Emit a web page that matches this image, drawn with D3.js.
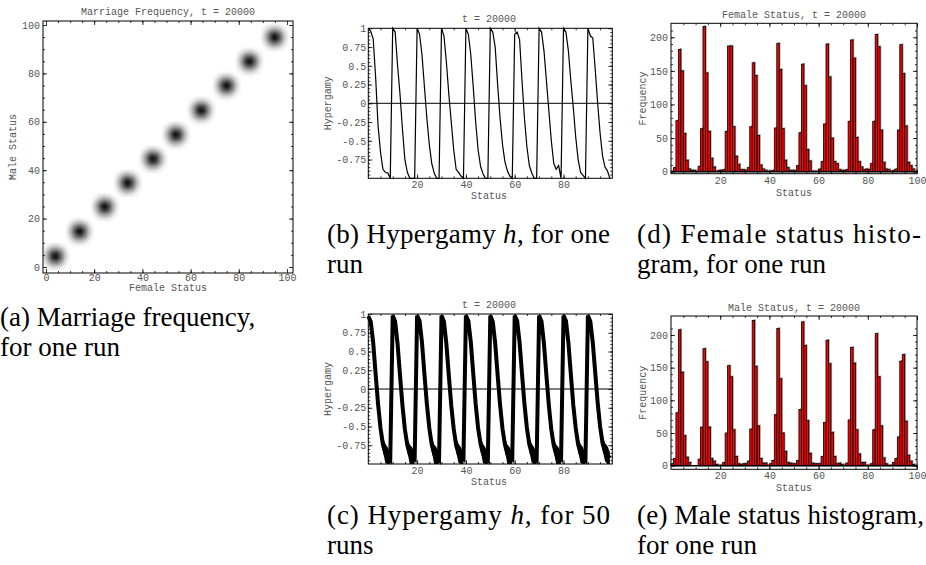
<!DOCTYPE html>
<html>
<head>
<meta charset="utf-8">
<script src="https://cdn.jsdelivr.net/npm/d3@7"></script>
<style>
  body { margin: 0; background: #fff; }
  svg { display: block; }
</style>
</head>
<body>
<svg id="chart" width="926" height="565"></svg>
<script>
// ---------- data (index in each array = status) ----------

// hypergamy h, one run
const hypOneRun = [
  1.00, 0.96, 0.86, 0.35, -0.30, -0.65, -0.88, -0.92, -0.93, -1.00,
  1.00, 0.95, 0.50, 0.12, -0.35, -0.75, -0.92, -1.00, -1.00, -1.00,
  1.00, 0.92, 0.65, 0.22, -0.20, -0.55, -0.80, -0.93, -1.00, -1.00,
  1.00, 0.90, 0.55, 0.12, -0.25, -0.62, -0.88, -0.92, -0.97, -1.00,
  1.00, 0.92, 0.65, 0.22, -0.25, -0.62, -0.84, -0.94, -1.00, -1.00,
  1.00, 0.95, 0.75, 0.25, -0.20, -0.55, -0.78, -0.90, -0.97, -1.00,
  0.92, 0.95, 0.85, 0.30, -0.20, -0.58, -0.83, -0.93, -1.00, -1.00,
  1.00, 0.95, 0.70, 0.30, -0.10, -0.50, -0.80, -0.88, -0.83, -1.00,
  1.00, 0.95, 0.70, 0.30, -0.05, -0.45, -0.75, -0.92, -0.96, -1.00,
  1.00, 0.90, 0.87, 0.45, 0.00, -0.40, -0.70, -0.85, -0.90, -1.00
];

// hypergamy h, 50 runs: centre of the band and its half width
const hyp50Mean = [
  0.97, 0.90, 0.62, 0.20, -0.20, -0.52, -0.74, -0.86, -0.90, -0.94,
  0.98, 0.90, 0.60, 0.18, -0.22, -0.54, -0.75, -0.87, -0.90, -0.93,
  0.98, 0.91, 0.62, 0.20, -0.20, -0.52, -0.74, -0.87, -0.90, -0.94,
  0.98, 0.90, 0.60, 0.18, -0.22, -0.53, -0.75, -0.86, -0.90, -0.93,
  0.98, 0.91, 0.63, 0.21, -0.20, -0.52, -0.73, -0.86, -0.90, -0.94,
  0.98, 0.90, 0.61, 0.19, -0.21, -0.53, -0.74, -0.87, -0.90, -0.93,
  0.98, 0.91, 0.62, 0.20, -0.20, -0.52, -0.74, -0.86, -0.90, -0.94,
  0.98, 0.90, 0.60, 0.18, -0.22, -0.54, -0.75, -0.87, -0.90, -0.93,
  0.98, 0.91, 0.62, 0.20, -0.21, -0.52, -0.74, -0.86, -0.90, -0.94,
  0.98, 0.90, 0.62, 0.22, -0.18, -0.50, -0.72, -0.84, -0.88, -0.92
];
const hyp50Spread = [
  0.03, 0.05, 0.05, 0.05, 0.05, 0.06, 0.09, 0.13, 0.12, 0.07,
  0.02, 0.05, 0.05, 0.05, 0.05, 0.06, 0.09, 0.13, 0.12, 0.07,
  0.02, 0.05, 0.05, 0.05, 0.05, 0.06, 0.09, 0.13, 0.12, 0.07,
  0.02, 0.05, 0.05, 0.05, 0.05, 0.06, 0.09, 0.13, 0.12, 0.07,
  0.02, 0.05, 0.05, 0.05, 0.05, 0.06, 0.09, 0.13, 0.12, 0.07,
  0.02, 0.05, 0.05, 0.05, 0.05, 0.06, 0.09, 0.13, 0.12, 0.07,
  0.02, 0.05, 0.05, 0.05, 0.05, 0.06, 0.09, 0.13, 0.12, 0.07,
  0.02, 0.05, 0.05, 0.05, 0.05, 0.06, 0.09, 0.13, 0.12, 0.07,
  0.02, 0.05, 0.05, 0.05, 0.05, 0.06, 0.09, 0.13, 0.12, 0.07,
  0.02, 0.05, 0.05, 0.05, 0.05, 0.06, 0.09, 0.12, 0.12, 0.08
];

// histogram counts, one bin per unit of status
const femaleCounts = [
  1, 6, 76, 182, 150, 57, 17, 4, 2, 2,
  1, 8, 64, 216, 147, 60, 20, 7, 1, 2,
  2, 3, 60, 187, 187, 67, 23, 11, 3, 3,
  2, 6, 67, 162, 143, 54, 10, 4, 2, 1,
  1, 2, 65, 191, 152, 64, 17, 6, 2, 2,
  2, 9, 58, 160, 128, 33, 16, 1, 1, 1,
  4, 15, 71, 190, 141, 50, 15, 12, 3, 2,
  2, 3, 75, 196, 169, 51, 15, 7, 3, 4,
  3, 12, 75, 204, 186, 62, 14, 4, 3, 1,
  2, 4, 62, 189, 146, 68, 14, 9, 4, 1
];
const maleCounts = [
  3, 11, 81, 208, 143, 46, 13, 5, 0, 0,
  0, 10, 59, 179, 159, 59, 11, 7, 2, 1,
  1, 5, 50, 153, 136, 55, 14, 3, 2, 3,
  3, 7, 56, 222, 152, 61, 11, 4, 4, 1,
  3, 8, 78, 210, 133, 50, 22, 5, 4, 3,
  3, 8, 86, 220, 184, 69, 19, 4, 3, 3,
  3, 14, 66, 192, 156, 51, 14, 3, 4, 2,
  1, 4, 70, 181, 157, 55, 18, 5, 5, 1,
  1, 3, 55, 202, 136, 61, 12, 3, 1, 1,
  5, 11, 44, 160, 170, 68, 16, 7, 2, 1
];

// marriage frequency: blob centres (female, male) and the density around one centre
const blobFemale = [4, 14, 24.5, 34, 44.5, 54, 64.5, 75, 84.5, 95];
const blobMale = [4.3, 14.5, 24.7, 34.6, 44.5, 54.5, 64.6, 74.8, 84.8, 94.8];
const blobKernel = [
  [0.00, 0.02, 0.05, 0.08, 0.11, 0.12, 0.10, 0.07, 0.04, 0.01, 0.00],
  [0.02, 0.06, 0.13, 0.20, 0.25, 0.27, 0.23, 0.18, 0.11, 0.05, 0.01],
  [0.05, 0.13, 0.25, 0.37, 0.45, 0.47, 0.43, 0.35, 0.22, 0.11, 0.04],
  [0.08, 0.21, 0.37, 0.56, 0.70, 0.74, 0.67, 0.53, 0.35, 0.18, 0.06],
  [0.11, 0.26, 0.45, 0.70, 0.88, 0.94, 0.85, 0.66, 0.43, 0.23, 0.09],
  [0.12, 0.28, 0.48, 0.74, 0.94, 1.00, 0.92, 0.70, 0.45, 0.24, 0.10],
  [0.10, 0.24, 0.43, 0.66, 0.84, 0.90, 0.82, 0.63, 0.41, 0.21, 0.08],
  [0.07, 0.18, 0.34, 0.51, 0.64, 0.68, 0.62, 0.49, 0.32, 0.16, 0.05],
  [0.04, 0.11, 0.22, 0.34, 0.41, 0.43, 0.40, 0.32, 0.20, 0.09, 0.03],
  [0.01, 0.05, 0.11, 0.18, 0.23, 0.24, 0.21, 0.16, 0.09, 0.04, 0.01],
  [0.00, 0.01, 0.04, 0.07, 0.09, 0.10, 0.08, 0.06, 0.03, 0.01, 0.00]
];

// tick labels
const statusTicksA = [0, 20, 40, 60, 80, 100];
const statusTicks = [20, 40, 60, 80];
const statusTicksHist = [20, 40, 60, 80, 100];
const hypTicks = [1, 0.75, 0.5, 0.25, 0, -0.25, -0.5, -0.75];
const freqTicks = [0, 50, 100, 150, 200];

// captions: each line is a list of [text, italic]
const captionA = [[["(a) Marriage frequency,", false]], [["for one run", false]]];
const captionB = [[["(b) Hypergamy ", false], ["h", true], [", for one", false]], [["run", false]]];
const captionC = [[["(c) Hypergamy ", false], ["h", true], [", for 50", false]], [["runs", false]]];
const captionD = [[["(d) Female status histo-", false]], [["gram, for one run", false]]];
const captionE = [[["(e) Male status histogram,", false]], [["for one run", false]]];

// ---------- drawing ----------
const svg = d3.select("#chart");
const mono = "'Liberation Mono', 'Courier New', monospace";
const serif = "'Liberation Serif', 'Times New Roman', serif";
const LABEL_GRAY = "#555";

// frame with inward ticks on all four sides (Mathematica style)
const drawFrame = (g, x, y, o) => {
  const [xl, xr] = x.range();
  const [yb, yt] = y.range();
  const sides = [
    [d3.axisBottom, x, `translate(0,${yb})`, o.xMajor, o.xMinor, true, o.xPad],
    [d3.axisTop, x, `translate(0,${yt})`, o.xMajor, o.xMinor, false, 0],
    [d3.axisLeft, y, `translate(${xl},0)`, o.yMajor, o.yMinor, true, o.yPad],
    [d3.axisRight, y, `translate(${xr},0)`, o.yMajor, o.yMinor, false, 0],
  ];
  sides.forEach(([axis, scale, pos, major, minor, labels, pad]) => {
    const gMinor = g.append("g").attr("transform", pos)
      .call(axis(scale).tickValues(minor).tickSize(-2).tickSizeOuter(0).tickFormat(() => ""));
    const gMajor = g.append("g").attr("transform", pos)
      .call(axis(scale).tickValues(major).tickSize(-4).tickSizeOuter(0).tickPadding(pad)
        .tickFormat(labels ? (d) => String(d) : () => ""));
    [gMinor, gMajor].forEach((a) => {
      a.select(".domain").remove();
      a.selectAll("line").attr("stroke", "#000").attr("stroke-width", 0.8);
      a.selectAll("text").attr("font-family", mono).attr("font-size", 10).attr("fill", LABEL_GRAY);
    });
  });
  g.append("rect")
    .attr("x", xl).attr("y", yt)
    .attr("width", xr - xl).attr("height", yb - yt)
    .attr("fill", "none").attr("stroke", "#000").attr("stroke-width", 1);
};

const label = (g, x, y, text, rotate) => {
  g.append("text")
    .attr("transform", rotate ? `translate(${x},${y}) rotate(-90)` : `translate(${x},${y})`)
    .attr("text-anchor", "middle")
    .attr("font-family", mono).attr("font-size", 10).attr("fill", LABEL_GRAY)
    .text(text);
};

const caption = (x, y, width, lines) => {
  lines.forEach((segs, i) => {
    const t = svg.append("text")
      .attr("x", x).attr("y", y + i * 30)
      .attr("font-family", serif).attr("font-size", 27).attr("fill", "#000");
    segs.forEach(([s, it]) => t.append("tspan").attr("font-style", it ? "italic" : "normal").text(s));
    if (i === 0 && width) t.attr("textLength", width).attr("lengthAdjust", "spacing");
  });
};

// ---- (a) marriage frequency ----
{
  const g = svg.append("g");
  const x = d3.scaleLinear().domain([-1.24, 102.5]).range([43, 293]);
  const y = d3.scaleLinear().domain([-2.48, 101.65]).range([273, 21]);

  svg.append("defs").html(`
    <filter id="soft" x="-10%" y="-10%" width="120%" height="120%"><feGaussianBlur stdDeviation="0.8"/></filter>
    <clipPath id="clipA"><rect x="43" y="21" width="250" height="252"/></clipPath>`);

  const cells = [];
  blobFemale.forEach((cx, b) => {
    const cy = blobMale[b];
    blobKernel.forEach((row, r) => row.forEach((d, c) => {
      if (d > 0) cells.push({ fx: cx + c - 5, my: cy + 5 - r, d });
    }));
  });
  const cw = x(1) - x(0), ch = y(0) - y(1);
  const grey = (d) => { const v = Math.round(255 * (1 - d)); return `rgb(${v},${v},${v})`; };
  g.append("g").attr("clip-path", "url(#clipA)").append("g").attr("filter", "url(#soft)")
    .selectAll("rect").data(cells).join("rect")
    .attr("x", (d) => x(d.fx - 0.5))
    .attr("y", (d) => y(d.my + 0.5))
    .attr("width", cw + 0.3).attr("height", ch + 0.3)
    .attr("fill", (d) => grey(d.d));

  drawFrame(g, x, y, {
    xMajor: statusTicksA, xMinor: d3.range(5, 100, 5), xPad: 1,
    yMajor: statusTicksA, yMinor: d3.range(5, 100, 5), yPad: 3,
  });
  label(g, 168, 15, "Marriage Frequency, t = 20000");
  label(g, 168, 291, "Female Status");
  label(g, 16, 147, "Male Status", true);
}

// ---- (b) and (c) hypergamy ----
const hypPanel = (top, drawData, titleY) => {
  const g = svg.append("g");
  const x = d3.scaleLinear().domain([0, 100]).range([368.3, 612.3]);
  const y = d3.scaleLinear().domain([-1, 1]).range([top + 150, top]);
  drawData(g, x, y);
  g.append("line")
    .attr("x1", x(0)).attr("x2", x(100)).attr("y1", y(0)).attr("y2", y(0))
    .attr("stroke", "#000").attr("stroke-width", 1);
  drawFrame(g, x, y, {
    xMajor: statusTicks, xMinor: d3.range(5, 100, 5), xPad: 3,
    yMajor: hypTicks, yMinor: d3.range(-0.95, 1, 0.05), yPad: 2,
  });
  label(g, 489, titleY, "t = 20000");
  label(g, 489, top + 171, "Status");
  label(g, 331, top + 75, "Hypergamy", true);
};

hypPanel(28.3, (g, x, y) => {
  const line = d3.line().x((d, i) => x(i)).y((d) => y(d));
  g.append("path").datum(hypOneRun)
    .attr("d", line).attr("fill", "none").attr("stroke", "#000").attr("stroke-width", 1.2);
}, 22);

hypPanel(314, (g, x, y) => {
  const area = d3.area()
    .x((d, i) => x(i))
    .y0((d, i) => y(Math.max(-1, d - hyp50Spread[i])))
    .y1((d, i) => y(Math.min(1, d + hyp50Spread[i])));
  g.append("path").datum(hyp50Mean).attr("d", area).attr("fill", "#000");
  const line = d3.line().x((d, i) => x(i)).y((d) => y(d));
  g.append("path").datum(hyp50Mean)
    .attr("d", line).attr("fill", "none").attr("stroke", "#000").attr("stroke-width", 4);
}, 308);

// ---- (d) and (e) histograms ----
const histPanel = (counts, top, bottom, yDom, title) => {
  const g = svg.append("g");
  const x = d3.scaleLinear().domain([0, 100]).range([671, 917]);
  const y = d3.scaleLinear().domain(yDom).range([bottom, top]);
  const bars = g.append("g");
  bars.selectAll("rect.shadow").data(counts).join("rect")
    .attr("class", "shadow")
    .attr("x", (d, i) => x(i) + 1.2).attr("y", (d) => y(d) - 1.2)
    .attr("width", x(1) - x(0)).attr("height", (d) => y(0) - y(d))
    .attr("fill", "#9a9a9a");
  bars.selectAll("rect.bar").data(counts).join("rect")
    .attr("class", "bar")
    .attr("x", (d, i) => x(i)).attr("y", (d) => y(d))
    .attr("width", x(1) - x(0)).attr("height", (d) => y(0) - y(d))
    .attr("fill", "#ff0000").attr("stroke", "#000").attr("stroke-width", 0.8);
  g.append("line")
    .attr("x1", x(0)).attr("x2", x(100)).attr("y1", y(0)).attr("y2", y(0))
    .attr("stroke", "#000").attr("stroke-width", 1.5);
  drawFrame(g, x, y, {
    xMajor: statusTicksHist, xMinor: d3.range(5, 100, 5), xPad: 3,
    yMajor: freqTicks, yMinor: d3.range(10, 220, 10), yPad: 3,
  });
  label(g, 794, top - 5, title);
  label(g, 794, bottom + 22, "Status");
  label(g, 646, (top + bottom) / 2, "Frequency", true);
};

histPanel(femaleCounts, 23.3, 173.7, [-3, 220.8], "Female Status, t = 20000");
histPanel(maleCounts, 316, 469.3, [-5.5, 229], "Male Status, t = 20000");

// ---- captions ----
caption(0, 326, null, captionA);
caption(327, 243, 283, captionB);
caption(637, 243, 284, captionD);
caption(327, 524, 283, captionC);
caption(637, 524, 287, captionE);
</script>
</body>
</html>
